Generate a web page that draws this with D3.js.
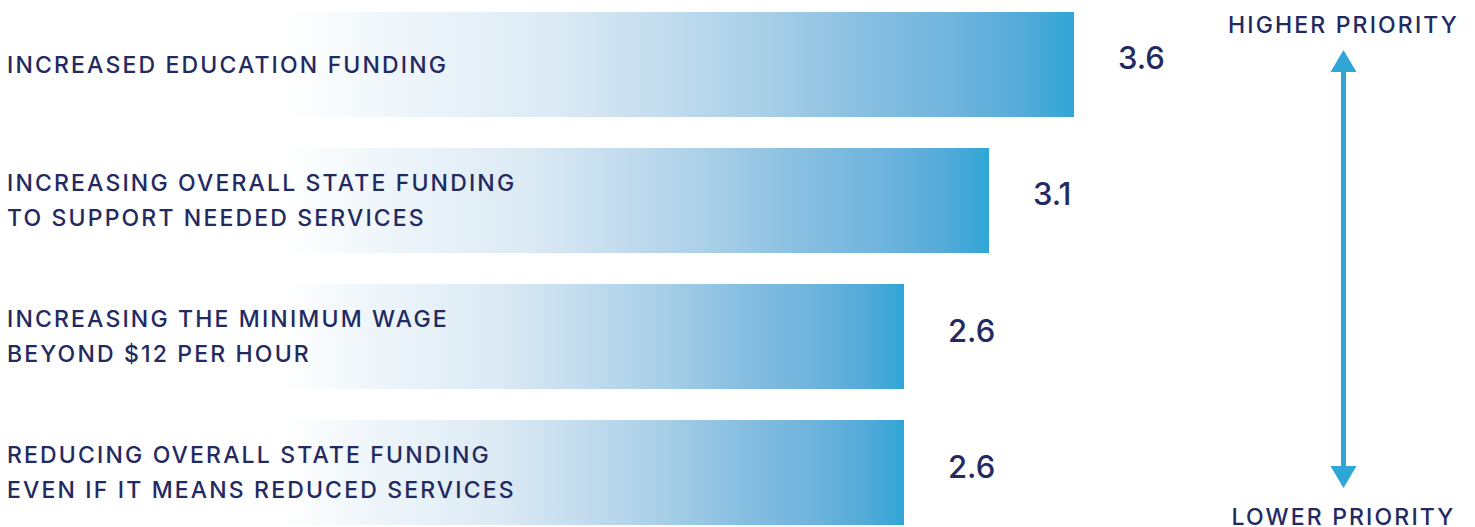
<!DOCTYPE html>
<html>
<head>
<meta charset="utf-8">
<script src="https://cdn.jsdelivr.net/npm/d3@7"></script>
<style>
  html, body { margin: 0; padding: 0; background: #ffffff; }
  svg { display: block; }
  text { font-family: Inter, "Open Sans", sans-serif; fill: #232a62; }
</style>
</head>
<body>
<svg id="chart" width="1475" height="527"></svg>
<script>
// ---- data ----
const categories = [
  "INCREASED EDUCATION FUNDING",
  "INCREASING OVERALL STATE FUNDING|TO SUPPORT NEEDED SERVICES",
  "INCREASING THE MINIMUM WAGE|BEYOND $12 PER HOUR",
  "REDUCING OVERALL STATE FUNDING|EVEN IF IT MEANS REDUCED SERVICES"
];
const values = [3.6, 3.1, 2.6, 2.6];
const valueLabels = ["3.6", "3.1", "2.6", "2.6"];
const axisLabels = ["HIGHER PRIORITY", "LOWER PRIORITY"];

// ---- layout ----
const svg = d3.select("#chart");
const blue = "#2fa6d6";
const labelSize = 23, labelWeight = 500;

const x = d3.scaleLinear().domain([0, 4]).range([462, 1142]);
const y = d3.scaleBand().domain(d3.range(categories.length)).range([12, 525]).paddingInner(0.228);

// letter spacing chosen so the label face matches the reference's wide type
const probe = svg.append("text").attr("font-size", labelSize).attr("font-weight", labelWeight)
  .text(categories[0]);
const rawW = probe.node().getComputedTextLength();
probe.remove();
const ls = Math.max(0, (439 - rawW) / (categories[0].length - 1));

const gradStops = [
  [0.00, "#ffffff"],
  [0.12, "#f1f7fb"],
  [0.35, "#dbeaf4"],
  [0.48, "#c3dcee"],
  [0.61, "#a8cfe7"],
  [0.735, "#88bfe1"],
  [0.86, "#6cb3dd"],
  [0.94, "#52aad9"],
  [1.00, "#2fa6d6"]
];
const fadeStart = 283;

const defs = svg.append("defs");
values.forEach((v, i) => {
  const g = defs.append("linearGradient")
    .attr("id", "grad" + i)
    .attr("gradientUnits", "userSpaceOnUse")
    .attr("x1", fadeStart).attr("x2", x(v))
    .attr("y1", 0).attr("y2", 0);
  gradStops.forEach(s => g.append("stop").attr("offset", s[0]).attr("stop-color", s[1]));
});

// bars
svg.append("g").selectAll("rect").data(values).join("rect")
  .attr("x", 0)
  .attr("y", (d, i) => y(i))
  .attr("width", d => x(d))
  .attr("height", y.bandwidth())
  .attr("fill", (d, i) => `url(#grad${i})`);

// category labels
const catG = svg.append("g");
categories.forEach((c, i) => {
  const lines = c.split("|");
  const cy = y(i) + y.bandwidth() / 2;
  const lh = 35;
  const t = catG.append("text")
    .attr("font-size", labelSize)
    .attr("font-weight", labelWeight)
    .attr("letter-spacing", ls);
  lines.forEach((ln, k) => {
    t.append("tspan")
      .attr("x", 7)
      .attr("y", cy + (k - (lines.length - 1) / 2) * lh + 8.3)
      .text(ln);
  });
});

// value labels
svg.append("g").selectAll("text").data(values).join("text")
  .attr("x", d => x(d) + 44)
  .attr("y", (d, i) => y(i) + y.bandwidth() / 2 + 5)
  .attr("font-size", 31)
  .attr("font-weight", 500)
  .text((d, i) => valueLabels[i]);

// priority arrow
const ax = 1343.5;
const yTop = 50, yBot = 488, headH = 22, headW = 26;
const arrowG = svg.append("g");
arrowG.append("line")
  .attr("x1", ax).attr("x2", ax)
  .attr("y1", yTop + headH - 2).attr("y2", yBot - headH + 2)
  .attr("stroke", blue).attr("stroke-width", 5);
arrowG.append("path")
  .attr("d", `M${ax},${yTop} L${ax + headW / 2},${yTop + headH} L${ax - headW / 2},${yTop + headH} Z`)
  .attr("fill", blue);
arrowG.append("path")
  .attr("d", `M${ax},${yBot} L${ax + headW / 2},${yBot - headH} L${ax - headW / 2},${yBot - headH} Z`)
  .attr("fill", blue);

arrowG.append("text")
  .attr("x", ax).attr("y", 33)
  .attr("text-anchor", "middle")
  .attr("font-size", labelSize).attr("font-weight", labelWeight).attr("letter-spacing", ls)
  .text(axisLabels[0]);
arrowG.append("text")
  .attr("x", ax).attr("y", 525)
  .attr("text-anchor", "middle")
  .attr("font-size", labelSize).attr("font-weight", labelWeight).attr("letter-spacing", ls)
  .text(axisLabels[1]);
</script>
</body>
</html>
